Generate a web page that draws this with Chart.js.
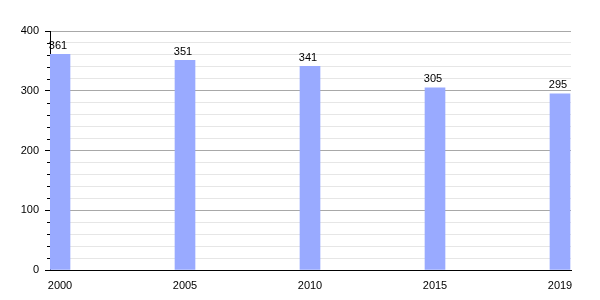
<!DOCTYPE html>
<html>
<head>
<meta charset="utf-8">
<script src="https://cdn.jsdelivr.net/npm/chart.js@4/dist/chart.umd.min.js"></script>
<style>
  html, body { margin: 0; padding: 0; background: #fff; }
  #wrap { width: 600px; height: 300px; }
</style>
</head>
<body>
<div id="wrap"><canvas id="chart"></canvas></div>
<script>
// Data
const years = ['2000', '2005', '2010', '2015', '2019'];
const population = [361, 351, 341, 305, 295];
const yTicks = [0, 100, 200, 300, 400];

const barColor = '#99aaff';

// Small plugin to write the values above the bars
const valueLabels = {
  id: 'valueLabels',
  afterDatasetsDraw(chart) {
    const ctx = chart.ctx;
    const meta = chart.getDatasetMeta(0);
    ctx.save();
    ctx.font = '11px "Liberation Sans", Arial, sans-serif';
    ctx.fillStyle = '#000';
    ctx.textAlign = 'center';
    ctx.textBaseline = 'bottom';
    meta.data.forEach((bar, i) => {
      ctx.fillText(String(population[i]), bar.x - 2, bar.y - 3);
    });
    ctx.restore();
  }
};

// Shorter tick marks for the minor (every 20) steps
const minorTicks = {
  id: 'minorTicks',
  afterDraw(chart) {
    const y = chart.scales.y;
    const ctx = chart.ctx;
    ctx.save();
    ctx.strokeStyle = '#000';
    ctx.lineWidth = 1;
    y.ticks.forEach((t) => {
      if (t.value % 100 === 0) return;
      const py = Math.round(y.getPixelForValue(t.value)) + 0.5;
      ctx.beginPath();
      ctx.moveTo(y.right - 3, py);
      ctx.lineTo(y.right, py);
      ctx.stroke();
    });
    ctx.restore();
  }
};

const ctx = document.getElementById('chart').getContext('2d');
const chart = new Chart(ctx, {
  type: 'bar',
  data: {
    datasets: [{
      data: population.map((v, i) => ({ x: i, y: v })),
      backgroundColor: barColor,
      borderWidth: 0,
      barThickness: 20
    }]
  },
  options: {
    responsive: true,
    maintainAspectRatio: false,
    animation: false,
    layout: { padding: { top: 31, right: 29, left: 0, bottom: 0 } },
    plugins: {
      legend: { display: false },
      tooltip: { enabled: false }
    },
    scales: {
      x: {
        type: 'linear',
        offset: false,
        min: -0.08,
        max: 4.088,
        afterBuildTicks: (scale) => {
          scale.ticks = years.map((y, i) => ({ value: i }));
        },
        afterFit: (scale) => { scale.height = 30; },
        ticks: {
          color: '#000',
          font: { family: '"Liberation Sans", Arial, sans-serif', size: 11 },
          padding: 1,
          maxRotation: 0,
          autoSkip: false,
          callback: (v) => years[v] ?? ''
        },
        grid: { display: false },
        border: { display: true, color: '#000', width: 1 }
      },
      y: {
        min: 0,
        max: 400,
        afterFit: (scale) => { scale.width = 50; },
        ticks: {
          stepSize: 20,
          autoSkip: false,
          color: '#000',
          padding: 6,
          font: { family: '"Liberation Sans", Arial, sans-serif', size: 11 },
          callback: (v) => (yTicks.includes(v) ? String(v) : '')
        },
        grid: {
          drawTicks: true,
          tickLength: 5,
          tickColor: (c) => (c.tick && c.tick.value % 100 === 0 ? '#000' : 'rgba(0,0,0,0)'),
          color: (c) => (c.tick && c.tick.value % 100 === 0 ? '#a8a8a8' : '#e6e6e6'),
          lineWidth: 1
        },
        border: { display: true, color: '#000', width: 1 }
      }
    }
  },
  plugins: [valueLabels, minorTicks]
});
</script>
</body>
</html>
